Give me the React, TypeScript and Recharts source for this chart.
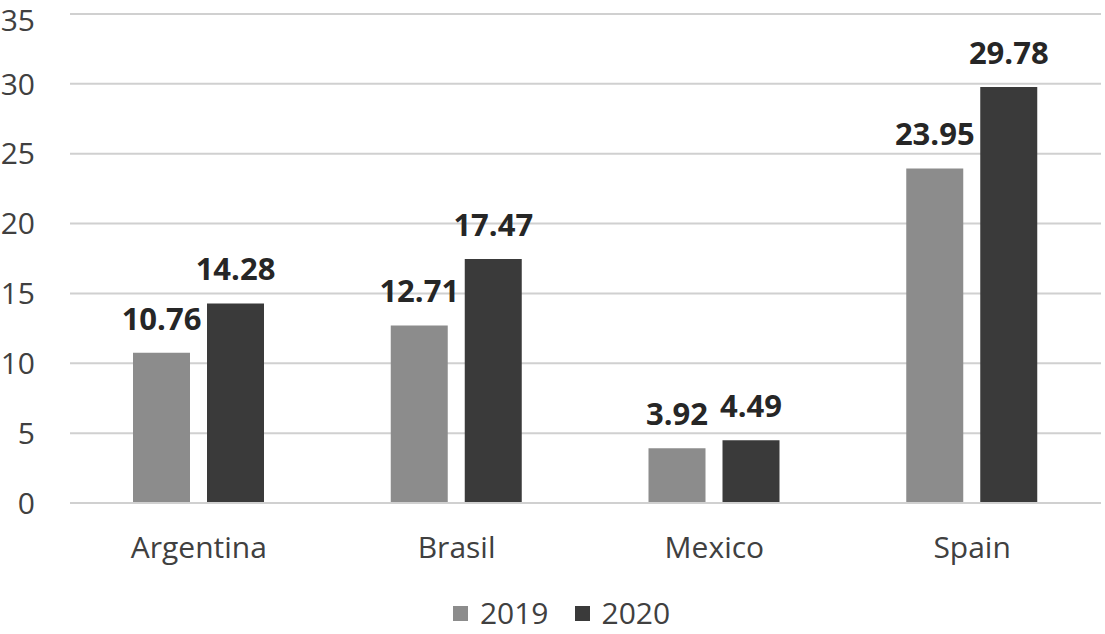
import React from "react";
import { BarChart, Bar, XAxis, YAxis, CartesianGrid, Legend, LabelList } from "recharts";

const categories = ["Argentina", "Brasil", "Mexico", "Spain"];
const values2019 = [10.76, 12.71, 3.92, 23.95];
const values2020 = [14.28, 17.47, 4.49, 29.78];
const yTicks = [0, 5, 10, 15, 20, 25, 30, 35];
const seriesNames = ["2019", "2020"];
const seriesColors = ["#8c8c8c", "#3a3a3a"];

const data = categories.map((c, i) => ({
  name: c,
  "2019": values2019[i],
  "2020": values2020[i],
}));

const FONT = "'Open Sans', sans-serif";

const renderLegend = () => (
  <div
    style={{
      height: 74,
      display: "flex",
      justifyContent: "center",
      alignItems: "flex-end",
      fontFamily: FONT,
      fontSize: 30,
      color: "#404040",
      lineHeight: "32px",
      paddingLeft: 22,
      paddingBottom: 5,
      boxSizing: "border-box",
    }}
  >
    {seriesNames.map((n, i) => (
      <div key={n} style={{ display: "flex", alignItems: "center", marginRight: i === 0 ? 26 : 0 }}>
        <span style={{ display: "inline-block", width: 15, height: 15, background: seriesColors[i], marginRight: 12 }} />
        <span>{n}</span>
      </div>
    ))}
  </div>
);

export default function App() {
  return (
    <div style={{ position: "absolute", left: 0, top: 0, width: 1105, height: 634, background: "#fff" }}>
      <BarChart
        width={1105}
        height={634}
        data={data}
        margin={{ top: 14, right: 4, bottom: 0, left: 0 }}
        barSize={57}
        barGap={17}
      >
        <CartesianGrid vertical={false} stroke="#d0d0d0" strokeWidth={2} />
        <XAxis
          dataKey="name"
          height={57}
          tickSize={0}
          tickMargin={34}
          tickLine={false}
          axisLine={{ stroke: "#d0d0d0", strokeWidth: 2 }}
          tick={{ fontFamily: FONT, fontSize: 30, fill: "#404040" }}
        />
        <YAxis
          width={70}
          domain={[0, 35]}
          ticks={yTicks}
          tickSize={0}
          tickMargin={35}
          tickLine={false}
          axisLine={false}
          tick={{ fontFamily: FONT, fontSize: 30, fill: "#404040" }}
        />
        <Legend verticalAlign="bottom" content={renderLegend} />
        {seriesNames.map((n, i) => (
          <Bar key={n} dataKey={n} fill={seriesColors[i]} isAnimationActive={false}>
            <LabelList
              dataKey={n}
              position="top"
              offset={23}
              style={{ fontFamily: FONT, fontSize: 31, fontWeight: 700, fill: "#262626" }}
            />
          </Bar>
        ))}
      </BarChart>
    </div>
  );
}
